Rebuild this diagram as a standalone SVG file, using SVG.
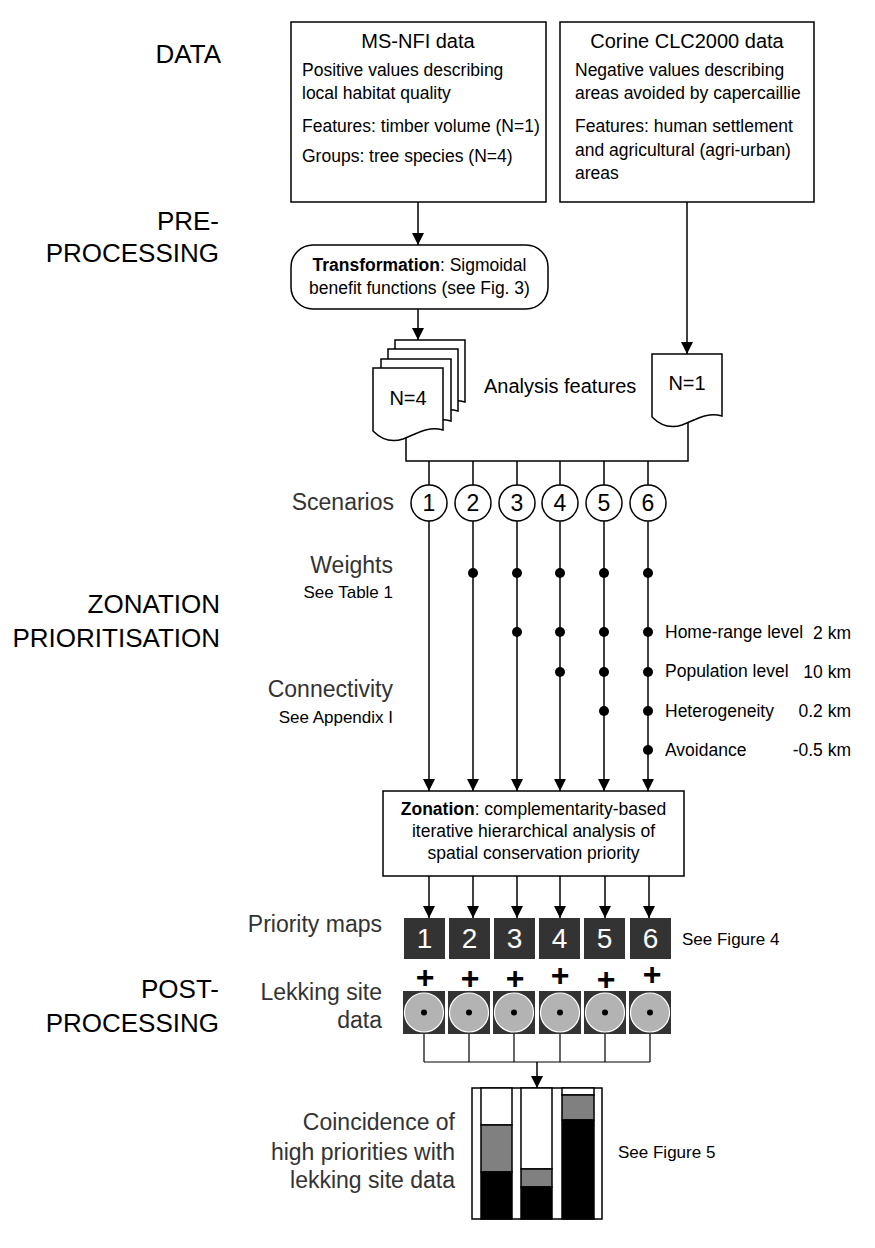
<svg xmlns="http://www.w3.org/2000/svg" width="875" height="1248" viewBox="0 0 875 1248">
<defs>
<marker id="arr" markerUnits="userSpaceOnUse" markerWidth="12" markerHeight="14" refX="12" refY="6" orient="auto">
<path d="M0,0 L12,6 L0,12 Z" fill="#000"/>
</marker>
<path id="doc" d="M0,0 H70 V62 C55,58 45,65 30,71 C18,75 8,71 0,63 Z"/>
</defs>
<style>
text{font-family:"Liberation Sans",Arial,Helvetica,sans-serif;fill:#000}
.sec{font-size:26px}
.lab{font-size:23px;fill:#333}
.t{font-size:17.5px}
.s{font-size:17px}
.ttl{font-size:20px}
.box{fill:#fff;stroke:#000;stroke-width:1.5}
.ln{fill:none;stroke:#000;stroke-width:1.5}
.thin{fill:none;stroke:#000;stroke-width:1.2}
.dk{fill:#333}
.num{font-size:28px;fill:#fff;text-anchor:middle}
.cn{font-size:23px;text-anchor:middle}
.plus{font-size:32px;font-weight:bold;text-anchor:middle}
</style>

<g id="section-labels" text-anchor="end">
<text class="sec" x="221" y="63">DATA</text>
<text class="sec" x="219" y="230">PRE-</text>
<text class="sec" x="219" y="262">PROCESSING</text>
<text class="sec" x="220" y="613">ZONATION</text>
<text class="sec" x="220" y="647">PRIORITISATION</text>
<text class="sec" x="219" y="998">POST-</text>
<text class="sec" x="219" y="1032">PROCESSING</text>
</g>

<g id="connectors">
<path class="ln" d="M418,202 V245" marker-end="url(#arr)"/>
<path class="ln" d="M687,202 V354" marker-end="url(#arr)"/>
<path class="ln" d="M418,309 V340" marker-end="url(#arr)"/>
<path class="ln" d="M406,438 V461 H688 V421"/>
<path class="ln" d="M429,461 V485 M473,461 V485 M517,461 V485 M560,461 V485 M604,461 V485 M648,461 V485"/>
<path class="ln" d="M429,521 V791" marker-end="url(#arr)"/>
<path class="ln" d="M473,521 V791" marker-end="url(#arr)"/>
<path class="ln" d="M517,521 V791" marker-end="url(#arr)"/>
<path class="ln" d="M560,521 V791" marker-end="url(#arr)"/>
<path class="ln" d="M604,521 V791" marker-end="url(#arr)"/>
<path class="ln" d="M648,521 V791" marker-end="url(#arr)"/>
<g fill="#000">
<circle cx="473" cy="573" r="5"/><circle cx="517" cy="573" r="5"/><circle cx="560" cy="573" r="5"/><circle cx="604" cy="573" r="5"/><circle cx="648" cy="573" r="5"/>
<circle cx="517" cy="632" r="5"/><circle cx="560" cy="632" r="5"/><circle cx="604" cy="632" r="5"/><circle cx="648" cy="632" r="5"/>
<circle cx="560" cy="672" r="5"/><circle cx="604" cy="672" r="5"/><circle cx="648" cy="672" r="5"/>
<circle cx="604" cy="711" r="5"/><circle cx="648" cy="711" r="5"/>
<circle cx="648" cy="750" r="5"/>
</g>
<path class="ln" d="M429,876 V918" marker-end="url(#arr)"/>
<path class="ln" d="M473,876 V918" marker-end="url(#arr)"/>
<path class="ln" d="M517,876 V918" marker-end="url(#arr)"/>
<path class="ln" d="M560,876 V918" marker-end="url(#arr)"/>
<path class="ln" d="M605,876 V918" marker-end="url(#arr)"/>
<path class="ln" d="M649,876 V918" marker-end="url(#arr)"/>
<path class="thin" d="M424,1034 V1062 M469,1034 V1062 M514,1034 V1062 M560,1034 V1062 M605,1034 V1062 M650,1034 V1062 M424,1062 H650"/>
<path class="ln" d="M537,1062 V1088" marker-end="url(#arr)"/>
</g>

<g id="ms-nfi">
<rect class="box" x="291" y="22" width="255" height="180"/>
<text class="ttl" x="418" y="48" text-anchor="middle">MS-NFI data</text>
<text class="t" x="302" y="76">Positive values describing</text>
<text class="t" x="302" y="99">local habitat quality</text>
<text class="t" x="302" y="132">Features: timber volume (N=1)</text>
<text class="t" x="302" y="162">Groups: tree species (N=4)</text>
</g>

<g id="corine">
<rect class="box" x="560" y="22" width="254" height="180"/>
<text class="ttl" x="687" y="48" text-anchor="middle">Corine CLC2000 data</text>
<text class="t" x="575" y="76">Negative values describing</text>
<text class="t" x="575" y="99">areas avoided by capercaillie</text>
<text class="t" x="575" y="132">Features: human settlement</text>
<text class="t" x="575" y="156">and agricultural (agri-urban)</text>
<text class="t" x="575" y="179">areas</text>
</g>

<g id="transformation">
<rect class="box" x="291" y="245" width="257" height="64" rx="22" ry="22"/>
<text class="t" x="419.5" y="271" text-anchor="middle"><tspan font-weight="bold">Transformation</tspan>: Sigmoidal</text>
<text class="t" x="419.5" y="294" text-anchor="middle">benefit functions (see Fig. 3)</text>
</g>

<g id="features-n4">
<use href="#doc" x="395" y="340" class="box"/>
<use href="#doc" x="388" y="349" class="box"/>
<use href="#doc" x="381" y="359" class="box"/>
<use href="#doc" x="373" y="368" class="box"/>
<text class="ttl" x="408" y="405" text-anchor="middle">N=4</text>
</g>

<g id="analysis-label">
<text class="ttl" x="484" y="393">Analysis features</text>
</g>

<g id="features-n1">
<use href="#doc" x="652" y="354" class="box"/>
<text class="ttl" x="687" y="390" text-anchor="middle">N=1</text>
</g>

<g id="scenarios">
<text class="lab" x="394" y="510" text-anchor="end">Scenarios</text>
<g class="box">
<circle cx="429" cy="503" r="18"/><circle cx="473" cy="503" r="18"/><circle cx="517" cy="503" r="18"/>
<circle cx="560" cy="503" r="18"/><circle cx="604" cy="503" r="18"/><circle cx="648" cy="503" r="18"/>
</g>
<text class="cn" x="429" y="511">1</text><text class="cn" x="473" y="511">2</text><text class="cn" x="517" y="511">3</text>
<text class="cn" x="560" y="511">4</text><text class="cn" x="604" y="511">5</text><text class="cn" x="648" y="511">6</text>
</g>

<g id="weights">
<text class="lab" x="393" y="573" text-anchor="end">Weights</text>
<text class="s" x="393" y="598" text-anchor="end">See Table 1</text>
</g>

<g id="connectivity">
<text class="lab" x="393" y="697" text-anchor="end">Connectivity</text>
<text class="s" x="393" y="723" text-anchor="end">See Appendix I</text>
<text class="t" x="665" y="638">Home-range level</text>
<text class="t" x="851" y="639" text-anchor="end">2 km</text>
<text class="t" x="665" y="677">Population level</text>
<text class="t" x="851" y="678" text-anchor="end">10 km</text>
<text class="t" x="665" y="717">Heterogeneity</text>
<text class="t" x="851" y="717" text-anchor="end">0.2 km</text>
<text class="t" x="665" y="756">Avoidance</text>
<text class="t" x="851" y="756" text-anchor="end">-0.5 km</text>
</g>

<g id="zonation">
<rect class="box" x="383" y="791" width="301" height="85"/>
<text class="t" x="533.5" y="815" text-anchor="middle"><tspan font-weight="bold">Zonation</tspan>: complementarity-based</text>
<text class="t" x="533.5" y="837" text-anchor="middle">iterative hierarchical analysis of</text>
<text class="t" x="533.5" y="859" text-anchor="middle">spatial conservation priority</text>
</g>

<g id="priority-maps">
<text class="lab" x="382" y="932" text-anchor="end">Priority maps</text>
<rect class="dk" x="404" y="918" width="41" height="41"/>
<rect class="dk" x="449" y="918" width="41" height="41"/>
<rect class="dk" x="494" y="918" width="41" height="41"/>
<rect class="dk" x="539" y="918" width="41" height="41"/>
<rect class="dk" x="584" y="918" width="41" height="41"/>
<rect class="dk" x="630" y="918" width="41" height="41"/>
<text class="num" x="424.5" y="948">1</text><text class="num" x="469.5" y="948">2</text><text class="num" x="514.5" y="948">3</text>
<text class="num" x="559.5" y="948">4</text><text class="num" x="604.5" y="948">5</text><text class="num" x="650.5" y="948">6</text>
<text class="s" x="682" y="945">See Figure 4</text>
</g>

<g id="plus-signs">
<text class="plus" x="425" y="988">+</text>
<text class="plus" x="470" y="989">+</text>
<text class="plus" x="515" y="989">+</text>
<text class="plus" x="560" y="986">+</text>
<text class="plus" x="606" y="990">+</text>
<text class="plus" x="652" y="985">+</text>
</g>

<g id="lekking-sites">
<text class="lab" x="382" y="1000" text-anchor="end">Lekking site</text>
<text class="lab" x="382" y="1028" text-anchor="end">data</text>
<g class="dk">
<rect x="403" y="991" width="42" height="43"/><rect x="448" y="991" width="42" height="43"/><rect x="493" y="991" width="42" height="43"/>
<rect x="539" y="991" width="42" height="43"/><rect x="584" y="991" width="42" height="43"/><rect x="629" y="991" width="42" height="43"/>
</g>
<g fill="#b3b3b3" stroke="#fff" stroke-width="1.2">
<circle cx="424" cy="1012.5" r="19.5"/><circle cx="469" cy="1012.5" r="19.5"/><circle cx="514" cy="1012.5" r="19.5"/>
<circle cx="560" cy="1012.5" r="19.5"/><circle cx="605" cy="1012.5" r="19.5"/><circle cx="650" cy="1012.5" r="19.5"/>
</g>
<g fill="#000">
<circle cx="424" cy="1012.5" r="3"/><circle cx="469" cy="1012.5" r="3"/><circle cx="514" cy="1012.5" r="3"/>
<circle cx="560" cy="1012.5" r="3"/><circle cx="605" cy="1012.5" r="3"/><circle cx="650" cy="1012.5" r="3"/>
</g>
</g>

<g id="coincidence">
<text class="lab" x="455" y="1130" text-anchor="end">Coincidence of</text>
<text class="lab" x="455" y="1160" text-anchor="end">high priorities with</text>
<text class="lab" x="455" y="1188" text-anchor="end">lekking site data</text>
<rect class="box" x="472" y="1088" width="130" height="131"/>
<g stroke="#000" stroke-width="1.5">
<rect x="481" y="1088" width="31" height="37" fill="#fff"/>
<rect x="481" y="1125" width="31" height="47" fill="#808080"/>
<rect x="481" y="1172" width="31" height="47" fill="#000"/>
<rect x="521" y="1088" width="31" height="81" fill="#fff"/>
<rect x="521" y="1169" width="31" height="18" fill="#808080"/>
<rect x="521" y="1187" width="31" height="32" fill="#000"/>
<rect x="562" y="1088" width="32" height="7" fill="#fff"/>
<rect x="562" y="1095" width="32" height="25" fill="#808080"/>
<rect x="562" y="1120" width="32" height="99" fill="#000"/>
</g>
<text class="s" x="618" y="1158">See Figure 5</text>
</g>
</svg>
